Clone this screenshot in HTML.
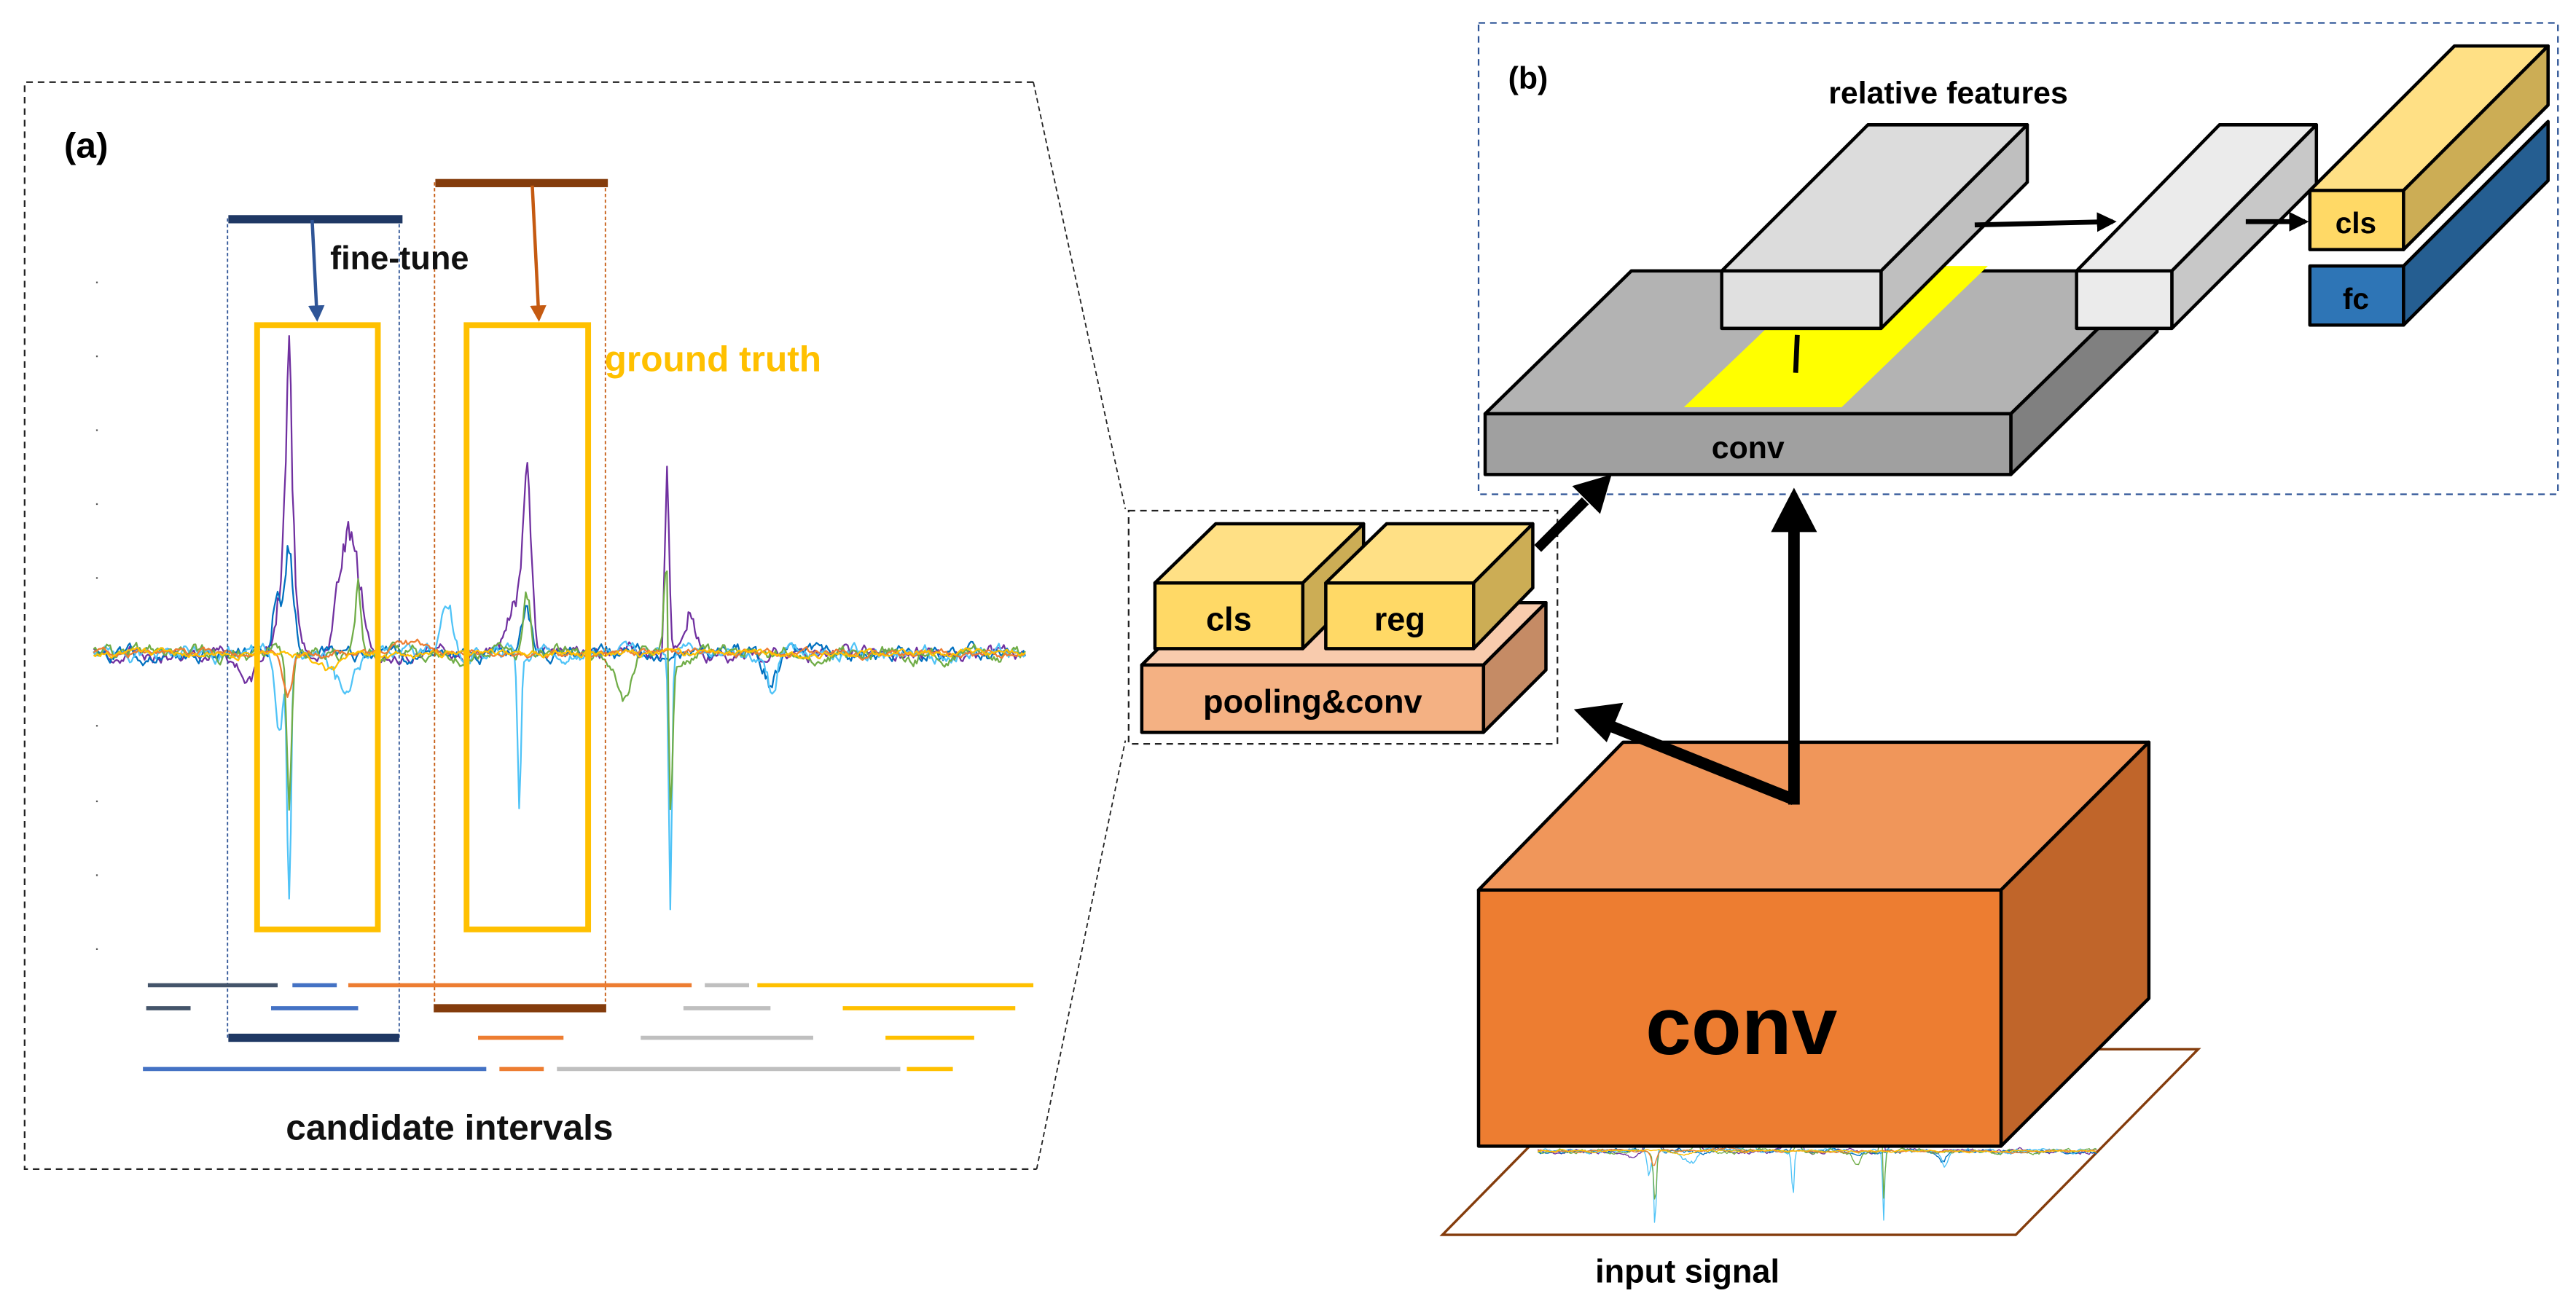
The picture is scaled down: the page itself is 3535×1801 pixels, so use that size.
<!DOCTYPE html>
<html><head><meta charset="utf-8"><style>
html,body{margin:0;padding:0;background:#fff}
svg{display:block}
text{font-family:"Liberation Sans",sans-serif;font-weight:bold}
</style></head><body>
<svg id="s" width="3535" height="1801" viewBox="0 0 1568 799" preserveAspectRatio="none" xmlns="http://www.w3.org/2000/svg">
<defs>
<marker id="ah" viewBox="0 0 10 10" refX="8" refY="5" markerWidth="4" markerHeight="4" orient="auto"><path d="M0,0L10,5L0,10z" fill="#000"/></marker>
<marker id="ahb" viewBox="0 0 10 10" refX="8" refY="5" markerWidth="5" markerHeight="5" orient="auto"><path d="M0,0L10,5L0,10z" fill="#2F5597"/></marker>
<marker id="aho" viewBox="0 0 10 10" refX="8" refY="5" markerWidth="5" markerHeight="5" orient="auto"><path d="M0,0L10,5L0,10z" fill="#C55A11"/></marker>
</defs>

<polyline points="629,50 15,50 15,712 631,712" fill="none" stroke="#222" stroke-width="1" stroke-dasharray="4,3"/>
<line x1="629" y1="50" x2="685" y2="310" stroke="#222" stroke-width="0.8" stroke-dasharray="3,2"/>
<line x1="631" y1="712" x2="685" y2="451" stroke="#222" stroke-width="0.8" stroke-dasharray="3,2"/>
<text x="39" y="96" font-size="22">(a)</text>

<g fill="#555"><rect x="58.5" y="171.5" width="1" height="1"/><rect x="58.5" y="216.5" width="1" height="1"/><rect x="58.5" y="261.5" width="1" height="1"/><rect x="58.5" y="306.5" width="1" height="1"/><rect x="58.5" y="351.5" width="1" height="1"/><rect x="58.5" y="441.5" width="1" height="1"/><rect x="58.5" y="487.5" width="1" height="1"/><rect x="58.5" y="532.5" width="1" height="1"/><rect x="58.5" y="577.5" width="1" height="1"/></g>

<g id="sig"></g>

<line x1="138.5" y1="133" x2="138.5" y2="632" stroke="#2F5597" stroke-width="0.8" stroke-dasharray="2,1.5"/>
<line x1="243" y1="133" x2="243" y2="632" stroke="#2F5597" stroke-width="0.8" stroke-dasharray="2,1.5"/>
<line x1="264.5" y1="111" x2="264.5" y2="614" stroke="#C55A11" stroke-width="0.8" stroke-dasharray="2,1.5"/>
<line x1="368.5" y1="111" x2="368.5" y2="614" stroke="#C55A11" stroke-width="0.8" stroke-dasharray="2,1.5"/>

<rect x="139" y="131" width="106" height="5" fill="#1F3864"/>
<rect x="265" y="109" width="105" height="5" fill="#843C0C"/>
<line x1="190" y1="134" x2="193" y2="194" stroke="#2F5597" stroke-width="2" marker-end="url(#ahb)"/>
<line x1="324" y1="113" x2="328" y2="194" stroke="#C55A11" stroke-width="2" marker-end="url(#aho)"/>
<text x="201" y="164" font-size="20" fill="#111">fine-tune</text>

<rect x="156.5" y="198" width="73.5" height="368" fill="none" stroke="#FFC000" stroke-width="3.5"/>
<rect x="284" y="198" width="74" height="368" fill="none" stroke="#FFC000" stroke-width="3.5"/>
<text x="368" y="226" font-size="22" fill="#FFC000">ground truth</text>

<g stroke-width="2.5">
<line x1="90" y1="600" x2="169" y2="600" stroke="#44546A"/>
<line x1="178" y1="600" x2="205" y2="600" stroke="#4472C4"/>
<line x1="212" y1="600" x2="421" y2="600" stroke="#ED7D31"/>
<line x1="429" y1="600" x2="456" y2="600" stroke="#BFBFBF"/>
<line x1="461" y1="600" x2="629" y2="600" stroke="#FFC000"/>
<line x1="89" y1="614" x2="116" y2="614" stroke="#44546A"/>
<line x1="165" y1="614" x2="218" y2="614" stroke="#4472C4"/>
<line x1="416" y1="614" x2="469" y2="614" stroke="#BFBFBF"/>
<line x1="513" y1="614" x2="618" y2="614" stroke="#FFC000"/>
<line x1="291" y1="632" x2="343" y2="632" stroke="#ED7D31"/>
<line x1="390" y1="632" x2="495" y2="632" stroke="#BFBFBF"/>
<line x1="539" y1="632" x2="593" y2="632" stroke="#FFC000"/>
<line x1="87" y1="651" x2="296" y2="651" stroke="#4472C4"/>
<line x1="304" y1="651" x2="331" y2="651" stroke="#ED7D31"/>
<line x1="339" y1="651" x2="548" y2="651" stroke="#BFBFBF"/>
<line x1="552" y1="651" x2="580" y2="651" stroke="#FFC000"/>
</g>
<rect x="264" y="611.5" width="105" height="5" fill="#843C0C"/>
<rect x="139" y="629.5" width="104" height="5" fill="#1F3864"/>
<text x="174" y="694" font-size="22" fill="#111">candidate intervals</text>

<rect x="900" y="14" width="657" height="287" fill="none" stroke="#2F5597" stroke-width="1" stroke-dasharray="4,3"/>
<text x="918" y="54" font-size="19">(b)</text>
<text x="1113" y="63" font-size="19">relative features</text>

<g stroke="#000" stroke-width="2" stroke-linejoin="round">
<polygon points="904,252 1224,252 1313,165 993,165" fill="#B3B3B3"/>
<polygon points="1224,252 1313,165 1313,202 1224,289" fill="#808080"/>
<rect x="904" y="252" width="320" height="37" fill="#A0A0A0"/>
</g>
<polygon points="1025,248 1121,248 1210,162 1115,162" fill="#FFFF00"/>
<text x="1064" y="279" font-size="19" text-anchor="middle">conv</text>
<g stroke="#000" stroke-width="2" stroke-linejoin="round">
<line x1="1094" y1="204" x2="1093" y2="227" stroke-width="3"/>
<polygon points="1048,165 1145,165 1234,76 1137,76" fill="#DCDCDC"/>
<polygon points="1145,165 1234,76 1234,111 1145,200" fill="#BFBFBF"/>
<rect x="1048" y="165" width="97" height="35" fill="#E0E0E0"/>
<polygon points="1264,165 1322,165 1410,76 1351,76" fill="#EBEBEB"/>
<polygon points="1322,165 1410,76 1410,112 1322,200" fill="#C8C8C8"/>
<rect x="1264" y="165" width="58" height="35" fill="#EBEBEB"/>
<polygon points="1463,162 1551,74 1551,110 1463,198" fill="#255E91"/>
<rect x="1406" y="162" width="57" height="36" fill="#2E75B6"/>
<polygon points="1406,116 1463,116 1551,28 1494,28" fill="#FFE085"/>
<polygon points="1463,116 1551,28 1551,64 1463,152" fill="#CCAD55"/>
<rect x="1406" y="116" width="57" height="36" fill="#FFD966"/>
</g>
<line x1="1202" y1="137" x2="1286" y2="135" stroke="#000" stroke-width="3" marker-end="url(#ah)"/>
<line x1="1367" y1="135" x2="1403" y2="135" stroke="#000" stroke-width="3" marker-end="url(#ah)"/>
<text x="1434" y="142" font-size="18" text-anchor="middle">cls</text>
<text x="1434" y="188" font-size="18" text-anchor="middle">fc</text>

<rect x="687" y="311" width="261" height="142" fill="none" stroke="#222" stroke-width="1" stroke-dasharray="4,3"/>
<g stroke="#000" stroke-width="2" stroke-linejoin="round">
<polygon points="695,405 903,405 941,367 733,367" fill="#F8CBAD"/>
<polygon points="903,405 941,367 941,408 903,446" fill="#C58B65"/>
<rect x="695" y="405" width="208" height="41" fill="#F4B183"/>
<polygon points="703,355 793,355 830,319 740,319" fill="#FFE085"/>
<polygon points="793,355 830,319 830,358 793,395" fill="#CCAD55"/>
<rect x="703" y="355" width="90" height="40" fill="#FFD966"/>
<polygon points="807,355 897,355 933,319 844,319" fill="#FFE085"/>
<polygon points="897,355 933,319 933,358 897,395" fill="#CCAD55"/>
<rect x="807" y="355" width="90" height="40" fill="#FFD966"/>
</g>
<text x="748" y="384" font-size="20" text-anchor="middle">cls</text>
<text x="852" y="384" font-size="20" text-anchor="middle">reg</text>
<text x="799" y="434" font-size="20" text-anchor="middle">pooling&amp;conv</text>

<polygon points="878,752 1227,752 1338,639 989,639" fill="none" stroke="#843C0C" stroke-width="1.5"/>
<g id="sig2"></g>

<g stroke="#000" stroke-width="2" stroke-linejoin="round">
<polygon points="900,542 1218,542 1308,452 988,452" fill="#F0965A"/>
<polygon points="1218,542 1308,452 1308,608 1218,698" fill="#C0652A"/>
<rect x="900" y="542" width="318" height="156" fill="#ED7D31"/>
</g>
<text x="1060" y="642" font-size="50" text-anchor="middle">conv</text>
<text x="971" y="781" font-size="20">input signal</text>

<line x1="936" y1="334" x2="965" y2="305" stroke="#000" stroke-width="6"/>
<polygon points="981,289 974,313 957,296" fill="#000"/>
<polyline points="1092,490 1092,318" fill="none" stroke="#000" stroke-width="7"/>
<polygon points="1078,324 1106,324 1092,297" fill="#000"/>
<polyline points="1092,487 975,440" fill="none" stroke="#000" stroke-width="7"/>
<polygon points="958,432 988,428 978,452" fill="#000"/>
</svg>
<script>
(function(){
var seed=7;function rnd(){seed=(seed*16807)%2147483647;return seed/2147483647;}
var cols=["#7030A0","#0070C0","#4FC3F7","#70AD47","#ED7D31","#FFC000"];
var ev={
"#7030A0":[[176,-130,1.8],[174,-55,5],[212,-75,6],[321,-85,2.5],[316,-30,6],[406,-115,1.3],[420,-25,4],[150,12,6]],
"#0070C0":[[176,-60,3],[168,-35,2],[320,-30,3],[468,20,4]],
"#4FC3F7":[[176,140,1.2],[170,50,2],[316,90,1.2],[408,145,1],[272,-30,4],[470,25,3],[210,25,6]],
"#70AD47":[[176,95,1.5],[218,-40,2],[321,-40,2],[408,120,1.2],[406,-75,1.5],[380,25,4]],
"#ED7D31":[[175,30,3],[250,-6,10]],
"#FFC000":[[200,8,8]]};
function gen(base,sy,ns,stepPx,tx){
 var out="";
 cols.forEach(function(c){
  var pts=[],v=0,amp=(c=="#ED7D31"||c=="#FFC000")?2.5:5;
  for(var x=57;x<=624;x+=stepPx){
   v=v*0.8+(rnd()-0.5)*amp*1.2;
   var y=v;
   (ev[c]||[]).forEach(function(e){var d=(x-e[0])/e[2];y+=e[1]*Math.exp(-d*d/2)*(0.85+0.3*rnd());});
   pts.push((tx(x)).toFixed(1)+","+(base+y*sy).toFixed(1));
  }
  out+='<polyline points="'+pts.join(" ")+'" fill="none" stroke="'+c+'" stroke-width="'+ns+'" stroke-linejoin="round"/>';
 });
 return out;}
document.getElementById("sig").innerHTML=gen(398,1,1,1,function(x){return x;});
seed=7;
document.getElementById("sig2").innerHTML=gen(701,0.3,0.6,1.5,function(x){return 936+(x-57)*0.6;});
})();
</script>
</body></html>
